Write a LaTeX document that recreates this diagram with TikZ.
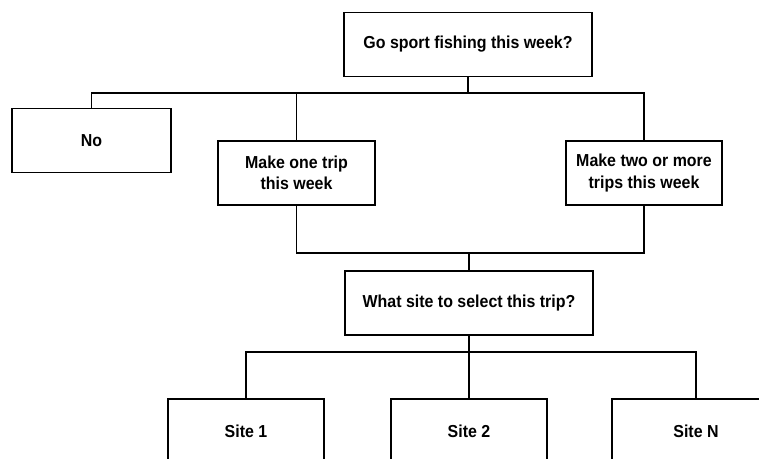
\documentclass[tikz,border=0pt]{standalone}
\usepackage{fontspec}
\setmainfont{Liberation Sans}[FakeStretch=0.92]
\begin{document}
\begin{tikzpicture}[x=0.75pt,y=-0.75pt,
  box/.style={draw=black,line width=0.8pt,inner sep=0pt,align=center,
    font=\fontsize{13}{16}\selectfont\bfseries,minimum height=48pt},
  link/.style={draw=black,line width=1.2pt}]
\useasboundingbox (0,0) rectangle (759,459);
\clip (0,0) rectangle (759,459);

% decision boxes
\node[box,minimum width=186pt]   (top)  at (468,44.5)  {Go sport fishing this week?};
\node[box,minimum width=119.25pt] (no)  at (91.5,140.5) {No};
\node[box,minimum width=117.75pt] (one) at (296.5,173) {Make one trip\\this week};
\node[box,minimum width=117pt]   (two)  at (644,173)   {Make two or more\\trips this week};
\node[box,minimum width=186pt]   (site) at (469,303)   {What site to select this trip?};
\node[box,minimum width=117pt]   (s1)   at (246,431)   {Site 1};
\node[box,minimum width=117pt]   (s2)   at (469,431)   {Site 2};
\node[box,minimum width=126pt]   (sN)   at (696,431)   {Site N};

% junction points of the tree
\coordinate (j1) at (468,93);
\coordinate (j2) at (469,253);
\coordinate (j3) at (469,352);

% first level
\draw[link] (top.south) -- (j1);
\draw[link] (no.north) |- (j1) -| (two.north);
\draw[link] (one.north) -- (one.north |- j1);

% trips join into the site choice
\draw[link] (one.south) |- (j2) -| (two.south);
\draw[link] (j2) -- (site.north);

% site alternatives
\draw[link] (site.south) -- (j3);
\draw[link] (s1.north) |- (j3) -| (sN.north);
\draw[link] (s2.north) -- (j3);
\end{tikzpicture}
\end{document}
